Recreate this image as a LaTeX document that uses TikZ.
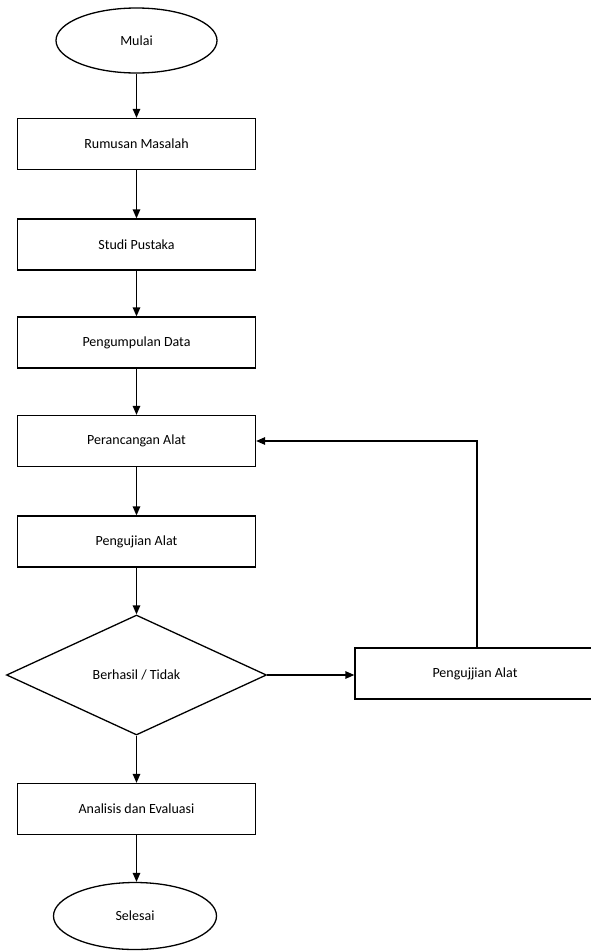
\documentclass[tikz,border=0pt]{standalone}
\usepackage{fontspec}
\setmainfont{Carlito}
\usetikzlibrary{arrows.meta,positioning,shapes.geometric}

\begin{document}
\begin{tikzpicture}[x=1pt,y=1pt,font=\fontsize{14}{17}\selectfont,>={Triangle[length=9pt,width=7.5pt]},
  line width=1.3pt,
  term/.style={draw,ellipse,minimum width=161pt,minimum height=65pt,inner sep=0pt},
  box/.style={draw,minimum width=238pt,minimum height=51pt,inner sep=0pt,align=center},
  cek/.style={draw,diamond,minimum width=260pt,minimum height=120pt,inner sep=0pt}]
\useasboundingbox (0,0) rectangle (590,-951);
\node[term] (mulai) at (136.5,-40.5) {Mulai};
\node[box] (rumusan) at (136.5,-144) {Rumusan Masalah};
\node[box] (studi) at (136.5,-244.5) {Studi Pustaka};
\node[box] (kumpul) at (136.5,-342.5) {Pengumpulan Data};
\node[box] (rancang) at (136.5,-441) {Perancangan Alat};
\node[box] (uji) at (136.5,-541.5) {Pengujian Alat};
\node[cek] (hasil) at (136.5,-675) {Berhasil / Tidak};
\node[box,minimum width=240pt] (uji2) at (475,-673.5) {Pengujjian Alat};
\node[box] (analisis) at (136.5,-809) {Analisis dan Evaluasi};
\node[term,minimum width=163pt,minimum height=67pt] (selesai) at (135,-916) {Selesai};
\draw[->](mulai)--(rumusan);\draw[->](rumusan)--(studi);\draw[->](studi)--(kumpul);
\draw[->](kumpul)--(rancang);\draw[->](rancang)--(uji);\draw[->](uji)--(hasil);
\draw[->](hasil)--(analisis);\draw[->](analisis)--(analisis.south|-selesai.north);
\draw[->](hasil.east)--(hasil.east-|uji2.west);
\draw[->]([xshift=2pt]uji2.north)|-(rancang.east);
\end{tikzpicture}
\end{document}
